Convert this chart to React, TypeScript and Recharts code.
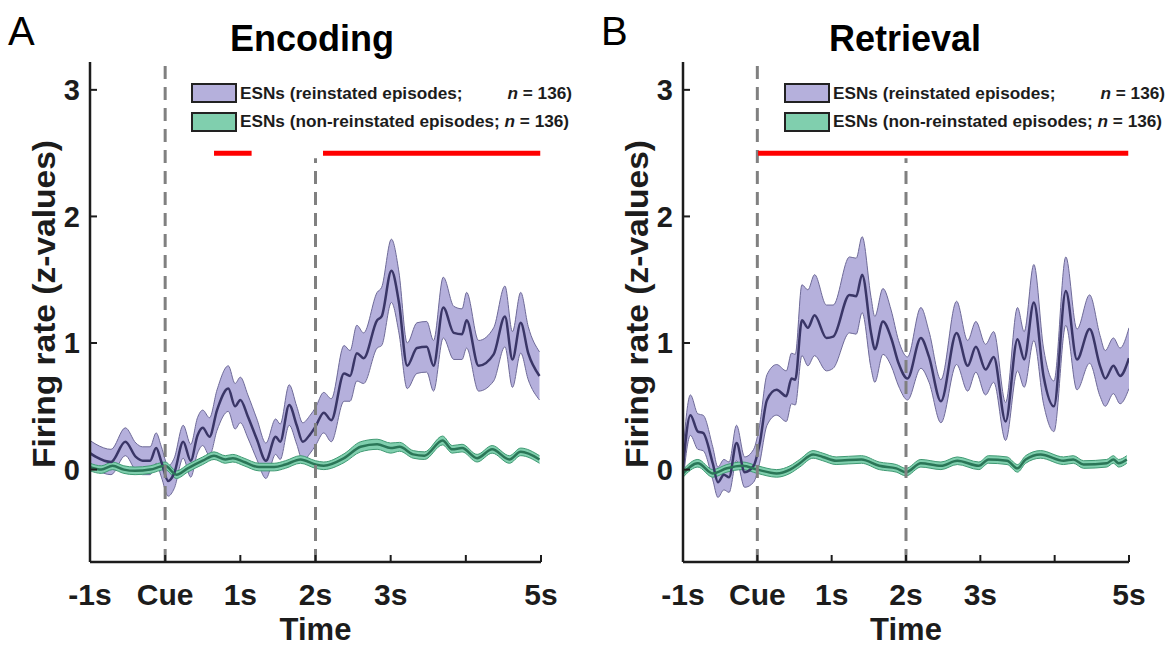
import React from "react";
import { ComposedChart, Area, Line, XAxis, YAxis, ReferenceLine } from "recharts";

const FONT = "'Liberation Sans', Arial, Helvetica, sans-serif";
const INK = "#1c1c1c";

const xTicks = [-1, 0, 1, 2, 3, 4, 5];
const xTickLabels = ["-1s", "Cue", "1s", "2s", "3s", "", "5s"];
const yTicks = [0, 1, 2, 3];
const yDomain = [-0.73, 3.22];
const cueTop = 3.2;
const stimEndTop = 2.46;
const sigLevel = 2.5;

// A: encoding, reinstated episodes
const encReinTime = [-1.0, -0.92, -0.72, -0.53, -0.39, -0.3, -0.2, -0.12, -0.05, 0.04, 0.12, 0.24, 0.34, 0.43, 0.5, 0.59, 0.69, 0.84, 0.93, 1.0, 1.1, 1.22, 1.34, 1.47, 1.53, 1.65, 1.75, 1.83, 1.93, 2.0, 2.11, 2.21, 2.38, 2.46, 2.55, 2.64, 2.82, 2.88, 3.01, 3.11, 3.22, 3.35, 3.48, 3.57, 3.7, 3.84, 3.95, 4.01, 4.17, 4.37, 4.52, 4.62, 4.73, 4.83, 4.98];
const encReinMean = [0.13, 0.1, 0.06, 0.22, 0.1, 0.07, 0.07, 0.17, 0.06, -0.09, -0.03, 0.22, 0.07, 0.27, 0.33, 0.26, 0.47, 0.64, 0.5, 0.55, 0.42, 0.24, 0.07, 0.26, 0.22, 0.51, 0.35, 0.22, 0.28, 0.34, 0.45, 0.39, 0.76, 0.74, 0.92, 0.88, 1.18, 1.21, 1.57, 1.32, 0.82, 0.96, 0.97, 0.82, 1.28, 1.08, 1.07, 1.18, 0.82, 0.91, 1.21, 0.87, 1.16, 0.92, 0.74];
const encReinSem = [0.1, 0.1, 0.1, 0.11, 0.11, 0.11, 0.11, 0.12, 0.12, 0.12, 0.12, 0.13, 0.13, 0.14, 0.14, 0.15, 0.16, 0.18, 0.18, 0.18, 0.17, 0.16, 0.14, 0.14, 0.14, 0.16, 0.15, 0.15, 0.15, 0.15, 0.16, 0.17, 0.22, 0.2, 0.22, 0.2, 0.22, 0.23, 0.25, 0.24, 0.18, 0.2, 0.2, 0.2, 0.24, 0.21, 0.2, 0.22, 0.2, 0.21, 0.24, 0.22, 0.24, 0.21, 0.19];

// A: encoding, non-reinstated episodes
const encNonTime = [-1.0, -0.85, -0.7, -0.55, -0.4, -0.2, 0.0, 0.15, 0.3, 0.5, 0.65, 0.8, 0.9, 1.05, 1.25, 1.45, 1.6, 1.8, 2.0, 2.11, 2.38, 2.6, 2.82, 3.0, 3.12, 3.3, 3.45, 3.69, 3.82, 3.95, 4.15, 4.35, 4.58, 4.73, 4.98];
const encNonMean = [0.02, 0.0, 0.03, 0.0, -0.01, 0.0, 0.03, -0.04, 0.01, 0.07, 0.11, 0.08, 0.09, 0.06, 0.02, 0.02, 0.04, 0.08, 0.04, 0.03, 0.09, 0.18, 0.2, 0.17, 0.18, 0.12, 0.11, 0.23, 0.16, 0.17, 0.09, 0.16, 0.08, 0.14, 0.08];
const encNonSem = [0.03, 0.03, 0.03, 0.03, 0.03, 0.03, 0.03, 0.03, 0.03, 0.03, 0.03, 0.03, 0.03, 0.03, 0.03, 0.03, 0.03, 0.03, 0.03, 0.03, 0.035, 0.04, 0.04, 0.04, 0.035, 0.03, 0.03, 0.035, 0.03, 0.03, 0.03, 0.03, 0.03, 0.03, 0.03];

// B: retrieval, reinstated episodes
const retReinTime = [-1.0, -0.9, -0.8, -0.73, -0.6, -0.53, -0.45, -0.38, -0.28, -0.17, -0.05, 0.03, 0.13, 0.26, 0.39, 0.46, 0.51, 0.6, 0.68, 0.77, 0.93, 1.02, 1.24, 1.33, 1.41, 1.53, 1.58, 1.69, 1.8, 1.9, 2.02, 2.2, 2.31, 2.47, 2.68, 2.83, 2.94, 3.07, 3.18, 3.34, 3.5, 3.59, 3.72, 3.85, 3.99, 4.15, 4.3, 4.47, 4.61, 4.68, 4.79, 4.88, 5.0];
const retReinMean = [0.02, 0.43, 0.3, 0.29, 0.05, -0.1, -0.04, -0.06, 0.21, -0.02, 0.03, 0.2, 0.55, 0.63, 0.58, 0.72, 0.71, 1.18, 1.12, 1.22, 1.04, 1.05, 1.38, 1.37, 1.54, 1.08, 0.95, 1.17, 1.04, 0.84, 0.72, 1.04, 0.89, 0.54, 1.08, 0.82, 0.97, 0.79, 0.89, 0.38, 1.03, 0.87, 1.32, 0.74, 0.5, 1.41, 0.87, 1.11, 0.82, 0.72, 0.82, 0.74, 0.88];
const retReinSem = [0.12, 0.16, 0.14, 0.14, 0.13, 0.12, 0.12, 0.12, 0.14, 0.12, 0.13, 0.15, 0.2, 0.2, 0.2, 0.2, 0.2, 0.28, 0.3, 0.32, 0.26, 0.25, 0.3, 0.3, 0.3, 0.28, 0.26, 0.26, 0.22, 0.18, 0.17, 0.24, 0.2, 0.17, 0.25, 0.2, 0.2, 0.2, 0.2, 0.15, 0.25, 0.22, 0.3, 0.22, 0.2, 0.27, 0.24, 0.27, 0.24, 0.22, 0.22, 0.22, 0.24];

// B: retrieval, non-reinstated episodes
const retNonTime = [-1.0, -0.8, -0.6, -0.41, -0.2, 0.0, 0.26, 0.44, 0.57, 0.75, 0.88, 1.06, 1.4, 1.64, 1.87, 2.0, 2.2, 2.47, 2.69, 2.98, 3.11, 3.36, 3.5, 3.61, 3.81, 4.12, 4.25, 4.39, 4.7, 4.79, 4.86, 4.97];
const retNonMean = [-0.03, 0.05, -0.03, 0.01, 0.03, 0.0, -0.03, 0.0, 0.05, 0.12, 0.1, 0.07, 0.08, 0.03, 0.01, -0.02, 0.05, 0.03, 0.07, 0.03, 0.08, 0.07, 0.01, 0.08, 0.12, 0.07, 0.08, 0.04, 0.05, 0.08, 0.05, 0.08];
const retNonSem = [0.03, 0.03, 0.03, 0.03, 0.03, 0.03, 0.03, 0.03, 0.03, 0.03, 0.03, 0.03, 0.03, 0.03, 0.03, 0.03, 0.03, 0.03, 0.03, 0.03, 0.03, 0.03, 0.03, 0.03, 0.03, 0.03, 0.03, 0.03, 0.03, 0.03, 0.03, 0.03];

// significance bars (seconds)
const encSig = [[0.65, 1.15], [2.1, 4.99]];
const retSig = [[0.01, 4.99]];

const legendTop = "ESNs (reinstated episodes;";
const legendBottom = "ESNs (non-reinstated episodes;";

function toRows(time: number[], mean: number[], sem: number[]) {
  return time.map((t, i) => ({ t, mean: mean[i], band: [mean[i] - sem[i], mean[i] + sem[i]] }));
}

function XTick(props: any) {
  const { x, y, payload } = props;
  const label = xTickLabels[xTicks.indexOf(payload.value)];
  return (
    <g>
      <line x1={x} x2={x} y1={y} y2={y - 7} stroke={INK} strokeWidth={2} />
      <text x={x} y={y + 43} textAnchor="middle" fontFamily={FONT} fontWeight={700} fontSize={30} fill={INK}>
        {label}
      </text>
    </g>
  );
}

function YTick(props: any) {
  const { x, y, payload } = props;
  return (
    <g>
      <line x1={x + 10} x2={x + 17} y1={y} y2={y} stroke={INK} strokeWidth={2} />
      <text x={x} y={y} dy="0.36em" textAnchor="end" fontFamily={FONT} fontWeight={700} fontSize={29} fill={INK}>
        {payload.value}
      </text>
    </g>
  );
}

function LegendBox() {
  const swatch = (fill: string) => ({
    width: 42,
    height: 16,
    background: fill,
    border: "2px solid #222",
    marginRight: 3,
    flex: "none" as const,
  });
  const row = { display: "flex", alignItems: "center", height: 28.5 };
  const txt = { fontFamily: FONT, fontWeight: 700, fontSize: 17.2, color: INK, whiteSpace: "nowrap" as const };
  return (
    <div style={{ position: "absolute", left: 191, top: 79 }}>
      <div style={row}>
        <div style={swatch("#b5b0dc")} />
        <div style={{ ...txt, width: 332, display: "flex", justifyContent: "space-between" }}>
          <span>{legendTop}</span>
          <span><i>n</i> = 136)</span>
        </div>
      </div>
      <div style={row}>
        <div style={swatch("#80cfae")} />
        <div style={txt}>
          {legendBottom} <i>n</i> = 136)
        </div>
      </div>
    </div>
  );
}

function Panel(props: any) {
  const { left, width, marginRight, letter, title, rein, non, sig } = props;
  const plotW = width - 90 - marginRight;
  return (
    <div style={{ position: "absolute", left, top: 0, width, height: 647 }}>
      <ComposedChart width={width} height={647} margin={{ top: 62, right: marginRight, left: 60, bottom: 25 }}>
        <XAxis
          type="number"
          dataKey="t"
          domain={[-1, 5]}
          ticks={xTicks}
          interval={0}
          allowDataOverflow
          height={60}
          axisLine={{ stroke: INK, strokeWidth: 2.5 }}
          tickLine={false}
          tickSize={0}
          tickMargin={0}
          tick={<XTick />}
          label={{
            content: () => (
              <text x={90 + plotW / 2} y={640} textAnchor="middle" fontFamily={FONT} fontWeight={700} fontSize={31} fill={INK}>
                Time
              </text>
            ),
          }}
        />
        <YAxis
          type="number"
          domain={yDomain}
          ticks={yTicks}
          allowDataOverflow
          width={30}
          axisLine={{ stroke: INK, strokeWidth: 2.5 }}
          tickLine={false}
          tickSize={0}
          tickMargin={10}
          tick={<YTick />}
          label={{
            content: () => (
              <text
                transform="translate(55, 304) rotate(-90)"
                textAnchor="middle"
                fontFamily={FONT}
                fontWeight={700}
                fontSize={32}
                textLength={328}
                lengthAdjust="spacingAndGlyphs"
                fill={INK}
              >
                Firing rate (z-values)
              </text>
            ),
          }}
        />
        <Area data={rein} dataKey="band" type="monotone" fill="#b5b0dc" fillOpacity={1} stroke="#6e6a98" strokeWidth={1} dot={false} activeDot={false} isAnimationActive={false} />
        <Line data={rein} dataKey="mean" type="monotone" stroke="#3a3667" strokeWidth={2.5} dot={false} activeDot={false} isAnimationActive={false} />
        <Area data={non} dataKey="band" type="monotone" fill="#80cfae" fillOpacity={1} stroke="#3f9a73" strokeWidth={1} dot={false} activeDot={false} isAnimationActive={false} />
        <Line data={non} dataKey="mean" type="monotone" stroke="#2a7657" strokeWidth={2.5} dot={false} activeDot={false} isAnimationActive={false} />
        <ReferenceLine segment={[{ x: 0, y: yDomain[0] }, { x: 0, y: cueTop }]} stroke="#808080" strokeWidth={3} strokeDasharray="13 8" />
        <ReferenceLine segment={[{ x: 2, y: yDomain[0] }, { x: 2, y: stimEndTop }]} stroke="#808080" strokeWidth={3} strokeDasharray="13 8" />
        {sig.map((s: number[], i: number) => (
          <ReferenceLine key={i} segment={[{ x: s[0], y: sigLevel }, { x: s[1], y: sigLevel }]} stroke="#ff0000" strokeWidth={5} />
        ))}
      </ComposedChart>
      <div style={{ position: "absolute", left: 8, top: 11, fontFamily: FONT, fontSize: 40, lineHeight: 1, color: "#000" }}>{letter}</div>
      <div
        style={{
          position: "absolute",
          left: 112,
          width: 400,
          top: 21,
          textAlign: "center",
          fontFamily: FONT,
          fontWeight: 700,
          fontSize: 36,
          lineHeight: 1,
          color: "#000",
        }}
      >
        {title}
      </div>
      <LegendBox />
    </div>
  );
}

export default function App() {
  const encRein = toRows(encReinTime, encReinMean, encReinSem);
  const encNon = toRows(encNonTime, encNonMean, encNonSem);
  const retRein = toRows(retReinTime, retReinMean, retReinSem);
  const retNon = toRows(retNonTime, retNonMean, retNonSem);
  return (
    <div style={{ position: "absolute", left: 0, top: 0, width: 1169, height: 647, background: "#fff" }}>
      <Panel left={0} width={580} marginRight={39} letter="A" title="Encoding" rein={encRein} non={encNon} sig={encSig} />
      <Panel left={593} width={576} marginRight={40} letter="B" title="Retrieval" rein={retRein} non={retNon} sig={retSig} />
    </div>
  );
}
